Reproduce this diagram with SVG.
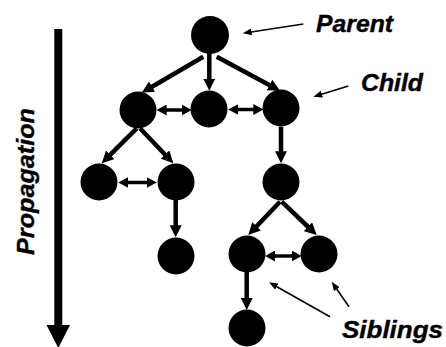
<svg xmlns="http://www.w3.org/2000/svg" width="446" height="347" viewBox="0 0 446 347">
  <style>
    .node { fill: #000; }
    .edge { stroke: #000; stroke-width: 4.5; fill: none; marker-end: url(#head); }
    .sib { stroke: #000; stroke-width: 3.5; fill: none; marker-start: url(#dhead); marker-end: url(#dhead); }
    .ptr { stroke: #000; stroke-width: 1.6; fill: none; marker-end: url(#thin); }
    .lbl { font-family: "Liberation Sans", Arial, sans-serif; font-weight: bold; font-style: italic; font-size: 24px; fill: #000; stroke: #000; stroke-width: 0.4; }
  </style>
  <defs>
    <marker id="head" viewBox="0 0 12 12" refX="4" refY="6" markerWidth="12" markerHeight="12" markerUnits="userSpaceOnUse" orient="auto">
      <path d="M0,0 L12,6 L0,12 z" fill="#000"/>
    </marker>
    <marker id="dhead" viewBox="0 0 10 11" refX="3" refY="5.5" markerWidth="10" markerHeight="11" markerUnits="userSpaceOnUse" orient="auto-start-reverse">
      <path d="M0,0 L10,5.5 L0,11 z" fill="#000"/>
    </marker>
    <marker id="thin" viewBox="0 0 9 7" refX="2" refY="3.5" markerWidth="9" markerHeight="7" markerUnits="userSpaceOnUse" orient="auto">
      <path d="M0,0 L9,3.5 L0,7 z" fill="#000"/>
    </marker>
  </defs>

  <!-- propagation direction -->
  <g id="propagation">
    <rect x="54.3" y="29" width="8" height="298" fill="#000"/>
    <polygon points="46.5,325 70,325 58.3,348" fill="#000"/>
    <text class="lbl" transform="translate(34,181.5) rotate(-90)" text-anchor="middle" font-size="23" textLength="147" lengthAdjust="spacingAndGlyphs">Propagation</text>
  </g>

  <!-- tree edges and sibling links -->
  <g id="connectors">
    <line class="edge" x1="203.3" y1="56.7" x2="148.6" y2="88.7"/>
    <line class="edge" x1="209.3" y1="53" x2="209.3" y2="82.7"/>
    <line class="edge" x1="216.7" y1="56.7" x2="273" y2="86.9"/>
    <line class="edge" x1="136.7" y1="128.3" x2="107.4" y2="157.6"/>
    <line class="edge" x1="140" y1="128.3" x2="167.8" y2="157.5"/>
    <line class="edge" x1="281" y1="126.7" x2="281" y2="155.3"/>
    <line class="edge" x1="175.7" y1="200" x2="175.7" y2="229.3"/>
    <line class="edge" x1="280" y1="201.7" x2="253.8" y2="229.2"/>
    <line class="edge" x1="281.7" y1="201.7" x2="310.9" y2="229.5"/>
    <line class="edge" x1="246.7" y1="271.7" x2="246.7" y2="302"/>

    <line class="sib" x1="163.7" y1="110" x2="184.7" y2="110"/>
    <line class="sib" x1="235.3" y1="109.5" x2="256.3" y2="109.5"/>
    <line class="sib" x1="125.3" y1="182.5" x2="149.7" y2="182.5"/>
    <line class="sib" x1="272" y1="256" x2="294.7" y2="256"/>

    <line class="ptr" x1="303.3" y1="24" x2="249.6" y2="32.2"/>
    <line class="ptr" x1="348.3" y1="86" x2="320" y2="94.7"/>
    <line class="ptr" x1="330" y1="316.7" x2="275.1" y2="285.7"/>
    <line class="ptr" x1="349" y1="306.7" x2="335.7" y2="287.5"/>
  </g>

  <!-- nodes -->
  <g id="root"><circle class="node" cx="210" cy="35" r="19"/></g>
  <g id="child-left"><circle class="node" cx="138" cy="110" r="18.5"/></g>
  <g id="child-middle"><circle class="node" cx="209" cy="109" r="18.5"/></g>
  <g id="child-right"><circle class="node" cx="281" cy="108" r="18.5"/></g>
  <g id="grandchild-ll"><circle class="node" cx="99" cy="182" r="18.5"/></g>
  <g id="grandchild-lr"><circle class="node" cx="176" cy="182" r="18.5"/></g>
  <g id="grandchild-r"><circle class="node" cx="281" cy="182" r="18.5"/></g>
  <g id="leaf-lr"><circle class="node" cx="176" cy="256" r="18.5"/></g>
  <g id="sibling-left"><circle class="node" cx="247" cy="254" r="18.5"/></g>
  <g id="sibling-right"><circle class="node" cx="319" cy="254" r="18.5"/></g>
  <g id="leaf-bottom"><circle class="node" cx="247" cy="328" r="18.5"/></g>

  <!-- labels -->
  <g id="labels">
    <text class="lbl" x="316" y="31.5" textLength="77" lengthAdjust="spacingAndGlyphs">Parent</text>
    <text class="lbl" x="361" y="90.5" textLength="62" lengthAdjust="spacingAndGlyphs">Child</text>
    <text class="lbl" x="342" y="338" textLength="101" lengthAdjust="spacingAndGlyphs">Siblings</text>
  </g>
</svg>
